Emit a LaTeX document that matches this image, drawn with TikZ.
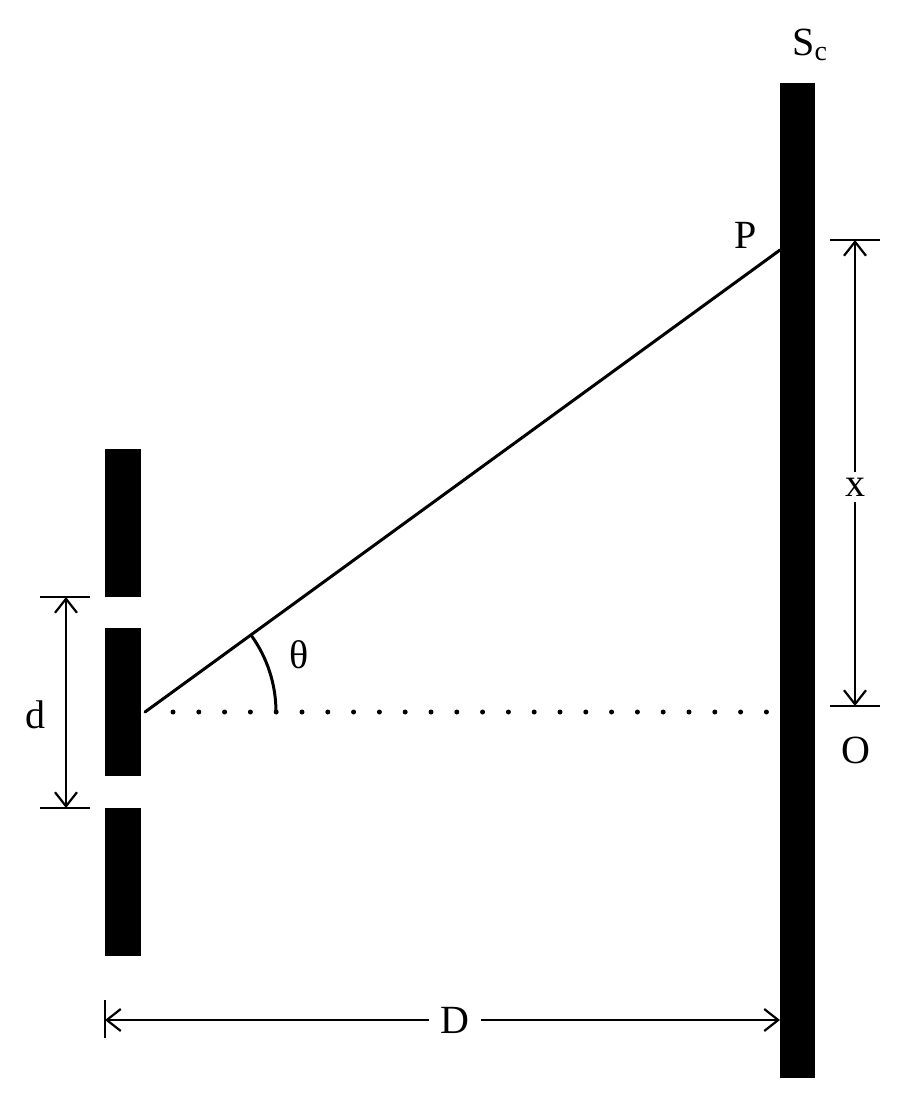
\documentclass[tikz,border=0pt]{standalone}
\usepackage{fontspec}
\setmainfont{Liberation Serif}
\usetikzlibrary{arrows.meta}
\begin{document}
\begin{tikzpicture}[x=1pt,y=-1pt,
  bar/.style={fill=black,draw=none},
  dim/.style={line width=2.2pt,{Straight Barb[length=14pt,width=22pt,line width=2.2pt]}-{Straight Barb[length=14pt,width=22pt,line width=2.2pt]}},
  tick/.style={line width=2.2pt},
  lab/.style={font=\fontsize{40}{44}\selectfont,inner sep=2pt}]
\useasboundingbox (0,0) rectangle (900,1096);
% barrier
\fill[bar] (105,449) rectangle (141,597);
\fill[bar] (105,628) rectangle (141,776);
\fill[bar] (105,808) rectangle (141,956);
% screen
\fill[bar] (780,83) rectangle (815,1078);
\coordinate (S) at (145,712);
\coordinate (P) at (780,250);
\coordinate (O) at (780,712);
\draw[line width=3pt,line cap=round] (S) -- (P);
\draw[line width=5pt,line cap=round,dash pattern=on 0pt off 25.8pt,dash phase=-25.8pt] (173,712) -- (770,712);
\draw[line width=3pt] ([shift={(0:131)}]S) arc[start angle=0,end angle=-36,radius=131];
% d
\draw[tick] (40,597) -- (90,597);
\draw[tick] (40,808) -- (90,808);
\coordinate (d1) at (66,597); \coordinate (d2) at (66,808);
\draw[dim] (d1) -- (d2);
\node[lab] (dl) at (35,715) {d};
% x
\draw[tick] (830,240) -- (880,240);
\draw[tick] (830,706) -- (880,706);
\coordinate (x1) at (855,240); \coordinate (x2) at (855,706);
\draw[dim] (x1) -- (x2);
\node[lab,fill=white,inner ysep=6pt] (xl) at (855,487) {x};
% D
\draw[tick] (105,1000) -- (105,1038);
\coordinate (D1) at (105,1020); \coordinate (D2) at (780,1020);
\draw[dim] (D1) -- (D2);
\node[lab,fill=white,inner xsep=12pt] (Dl) at (455,1020) {D};
% labels
\node[lab] (th) at (299,655) {θ};
\node[lab] (Pl) at (746,235) {P};
\node[lab] (Ol) at (856,750) {O};
\node[lab] (Sl) at (810,45) {S\textsubscript{c}};
\end{tikzpicture}
\end{document}
